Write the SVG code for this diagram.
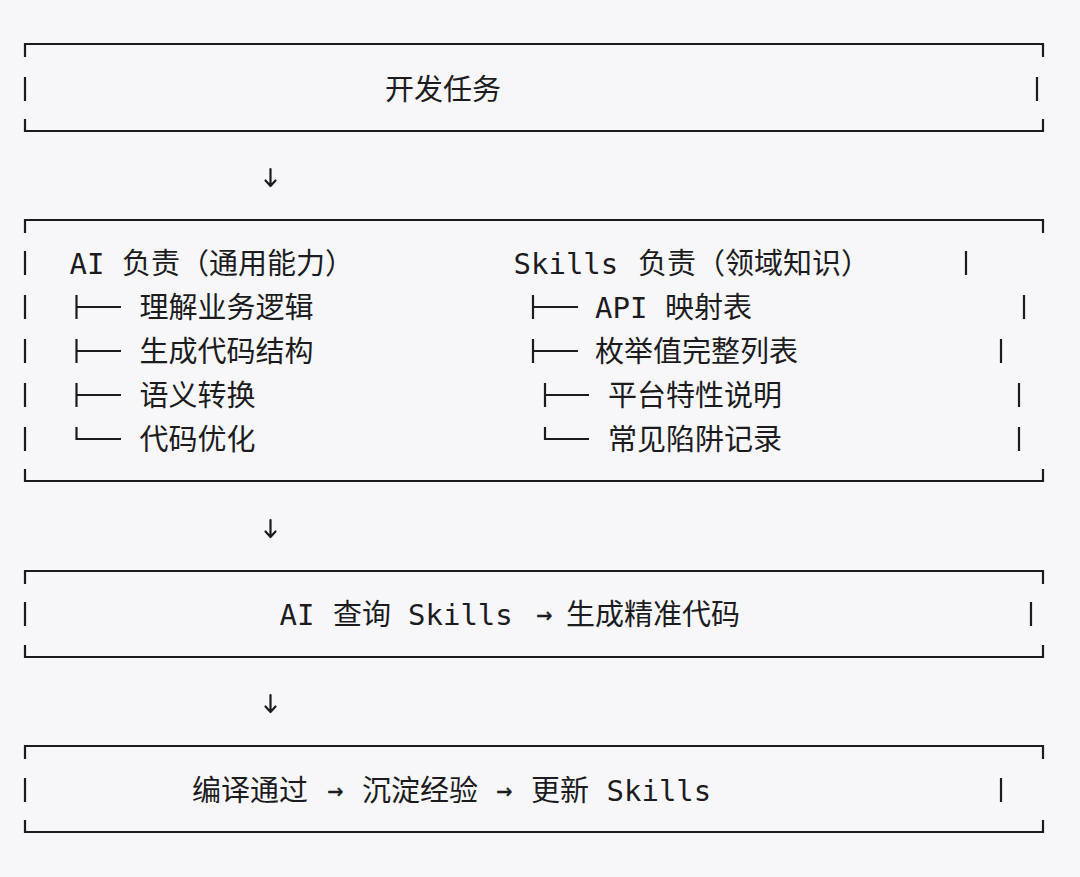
<svg xmlns="http://www.w3.org/2000/svg" width="1080" height="877" viewBox="0 0 1080 877">
<style>
.bg{fill:#f7f7f9}
.b{fill:none;stroke:#1c1c1e;stroke-width:2.2;stroke-linecap:butt}
.t{font-family:'DejaVu Sans Mono','Noto Sans CJK SC',monospace;font-size:29px;fill:#1c1c1e}
.c{font-family:'Noto Sans CJK SC','Noto Sans CJK JP',sans-serif;font-size:29px;fill:#1c1c1e}
.a{font-family:'DejaVu Sans Mono',monospace;font-size:26px;fill:#1c1c1e;stroke:#1c1c1e;stroke-width:0.5}
.k{fill:none;stroke:#1c1c1e;stroke-width:2.2;stroke-linecap:round;stroke-linejoin:round}
</style>
<rect class="bg" x="0" y="0" width="1080" height="877"/>

<g id="node-task">
<path class="b" d="M25 57 V44 H1043 V57 M25 119 V131 H1043 V119 M25 77 V101 M1037 77 V101"/>
<text class="c" x="385" y="100">开发任务</text>
</g>

<g id="node-responsibilities">
<path class="b" d="M25 233 V220 H1043 V233 M25 469 V481 H1043 V469"/>
<path class="b" d="M25 251 V275 M25 295 V319 M25 339 V363 M25 383 V407 M25 427 V451"/>
<path class="b" d="M966 251 V275 M1024 295 V319 M1001 339 V363 M1019 383 V407 M1019 427 V451"/>
<path class="b" d="M76.5 295 V319 M76.5 307 H121 M76.5 339 V363 M76.5 351 H121 M76.5 383 V407 M76.5 395 H121 M76.5 427 V439 H121"/>
<path class="b" d="M533 295 V319 M533 307 H578 M533 339 V363 M533 351 H578 M545 383 V407 M545 395 H589 M545 427 V439 H589"/>
<text class="t" x="69.5" y="274">AI</text>
<text class="c" x="122" y="274">负责（通用能力）</text>
<text class="t" x="513.5" y="274">Skills</text>
<text class="c" x="638" y="274">负责（领域知识）</text>
<text class="c" x="139.5" y="318">理解业务逻辑</text>
<text class="t" x="595" y="318">API</text>
<text class="c" x="665" y="318">映射表</text>
<text class="c" x="139.5" y="362">生成代码结构</text>
<text class="c" x="595" y="362">枚举值完整列表</text>
<text class="c" x="139.5" y="406">语义转换</text>
<text class="c" x="608" y="406">平台特性说明</text>
<text class="c" x="139.5" y="450">代码优化</text>
<text class="c" x="608" y="450">常见陷阱记录</text>
</g>

<g id="node-query">
<path class="b" d="M25 584 V571 H1043 V584 M25 645 V657 H1043 V645 M25 602 V626 M1031 602 V626"/>
<text class="t" x="279.5" y="625">AI</text>
<text class="c" x="333" y="625">查询</text>
<text class="t" x="408" y="625">Skills</text>
<text class="a" x="536.5" y="623">→</text>
<text class="c" x="566" y="625">生成精准代码</text>
</g>

<g id="node-feedback">
<path class="b" d="M25 759 V746 H1043 V759 M25 820 V832 H1043 V820 M25 778 V802 M1001 778 V802"/>
<text class="c" x="192" y="801">编译通过</text>
<text class="a" x="327.5" y="799">→</text>
<text class="c" x="362" y="801">沉淀经验</text>
<text class="a" x="496.5" y="799">→</text>
<text class="c" x="531" y="801">更新</text>
<text class="t" x="606.5" y="801">Skills</text>
</g>

<g id="connectors">
<path class="k" d="M270.5 169 V185.5 M265.5 180.5 L270.5 186 L275.5 180.5"/>
<path class="k" d="M270.5 520 V536.5 M265.5 531.5 L270.5 537 L275.5 531.5"/>
<path class="k" d="M270.5 695 V711.5 M265.5 706.5 L270.5 712 L275.5 706.5"/>
</g>
</svg>
